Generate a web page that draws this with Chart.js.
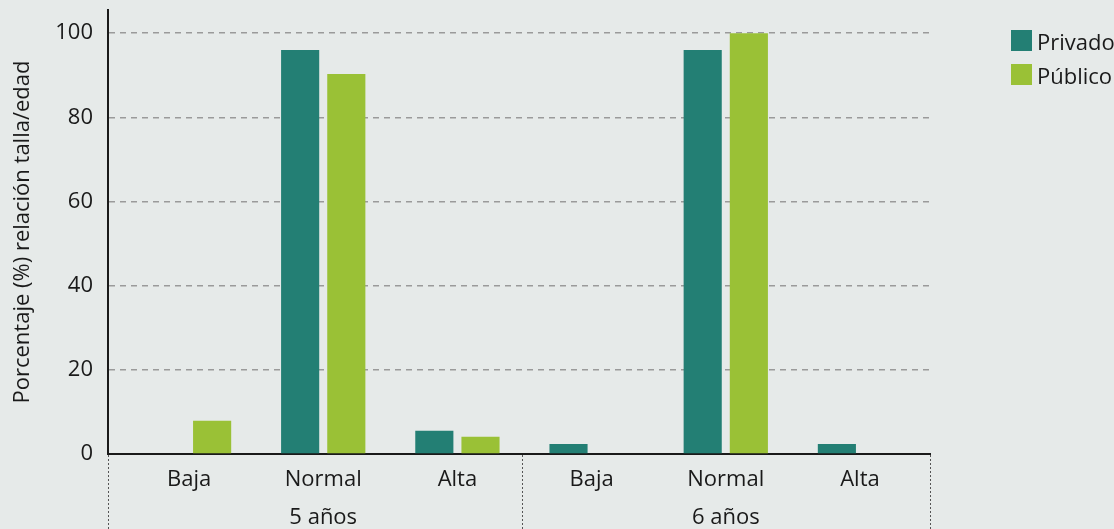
<!DOCTYPE html>
<html>
<head>
<meta charset="utf-8">
<script src="https://cdn.jsdelivr.net/npm/chart.js@4"></script>
<style>
    body { margin: 0; background: #e6eae9; font-family: "Open Sans", sans-serif; color: #1a1a1a; }
    #wrap { position: relative; width: 1114px; height: 529px; }
    #legend { position: absolute; left: 1011px; top: 30px; font-size: 22px; }
    .item { display: flex; align-items: center; height: 21px; margin-bottom: 13px; white-space: nowrap; }
    .box { width: 21px; height: 21px; margin-right: 5px; }
</style>
</head>
<body>
<div id="wrap">
    <canvas id="chart"></canvas>
    <div id="legend"></div>
</div>
<script>
const categories = ["Baja", "Normal", "Alta"];
const groups = ["5 años", "6 años"];
const privado = [0, 96, 5.5, 2.4, 96, 2.4];
const publico = [7.9, 90.3, 4.1, 0, 100, 0];
const yTicks = [0, 20, 40, 60, 80, 100];

const seriesNames = ["Privado", "Público"];
const colors = ["#237f74", "#9ac136"];
const textColor = "#1a1a1a";
const font = { family: "Open Sans", size: 22 };

// x positions 0..5, one per category inside each group
const xTicks = [];
groups.forEach((g, gi) => categories.forEach((c, ci) => xTicks.push(gi * categories.length + ci)));

function points(values) {
    return values.map((v, i) => ({ x: xTicks[i], y: v }));
}

function tickLabel(value) {
    const ci = value % categories.length;
    const gi = Math.floor(value / categories.length);
    if (ci === 1) return [categories[ci], groups[gi]];
    return categories[ci];
}

const xMin = -0.604;
const xMax = 5.522;

// dotted separators below the axis
const separators = {
    id: "separators",
    afterDraw(chart) {
        const ctx = chart.ctx;
        const x = chart.scales.x;
        const bottom = chart.chartArea.bottom;
        const positions = [xMin, 2.48, xMax];
        ctx.save();
        ctx.strokeStyle = "#555";
        ctx.lineWidth = 1;
        ctx.setLineDash([2, 2]);
        positions.forEach(p => {
            const px = Math.round(x.getPixelForValue(p)) + 0.5;
            ctx.beginPath();
            ctx.moveTo(px, bottom + 1);
            ctx.lineTo(px, chart.height);
            ctx.stroke();
        });
        ctx.restore();
    }
};

new Chart(document.getElementById("chart"), {
    type: "bar",
    data: {
        datasets: [
            { label: seriesNames[0], data: points(privado), backgroundColor: colors[0] },
            { label: seriesNames[1], data: points(publico), backgroundColor: colors[1] }
        ]
    },
    options: {
        responsive: true,
        maintainAspectRatio: false,
        animation: false,
        categoryPercentage: 0.688,
        barPercentage: 0.826,
        layout: { padding: { top: 10, right: 184, left: 0, bottom: 0 } },
        plugins: {
            legend: { display: false },
            tooltip: { enabled: false }
        },
        scales: {
            x: {
                type: "linear",
                min: xMin,
                max: xMax,
                offset: false,
                afterBuildTicks: axis => { axis.ticks = xTicks.map(v => ({ value: v })); },
                afterFit: axis => { axis.height = 75; },
                grid: { display: false, offset: false, drawTicks: false },
                border: { display: true, color: "#1a1a1a", width: 2 },
                ticks: {
                    autoSkip: false,
                    maxRotation: 0,
                    padding: 7,
                    color: textColor,
                    font: { family: "Open Sans", size: 22, lineHeight: 1.73 },
                    callback: v => tickLabel(v)
                }
            },
            y: {
                min: 0,
                max: 105.5,
                afterBuildTicks: axis => { axis.ticks = yTicks.map(v => ({ value: v })); },
                afterFit: axis => {
                    axis.width = 108;
                    axis.paddingTop = 0;
                    axis.paddingBottom = 0;
                },
                grid: { color: "#9a9a9a", lineWidth: 1.5, drawTicks: false },
                border: { display: true, color: "#1a1a1a", width: 2, dash: [6, 5] },
                ticks: { padding: 15, color: textColor, font: font },
                title: {
                    display: true,
                    text: "Porcentaje (%) relación talla/edad",
                    color: textColor,
                    font: font,
                    padding: { top: 10, bottom: 0 }
                }
            }
        }
    },
    plugins: [separators]
});

const legend = document.getElementById("legend");
seriesNames.forEach((name, i) => {
    const item = document.createElement("div");
    item.className = "item";
    item.innerHTML = `<span class="box" style="background:${colors[i]}"></span><span>${name}</span>`;
    legend.appendChild(item);
});
</script>
</body>
</html>
